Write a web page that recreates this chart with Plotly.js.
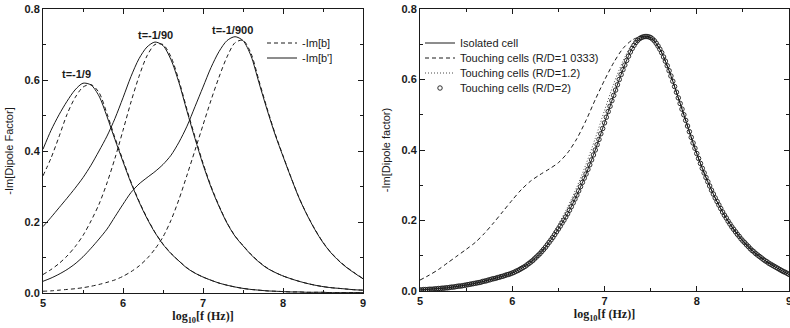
<!DOCTYPE html>
<html>
<head>
<meta charset="utf-8">
<script src="https://cdn.plot.ly/plotly-3.0.1.min.js"></script>
<style>html,body{margin:0;padding:0;background:#fff;}#chart{width:790px;height:328px;}</style>
</head>
<body>
<div id="chart"></div>
<script>
// ---------- shared x grid (log10 f, Hz) ----------
const logF = [5.0,5.1,5.2,5.3,5.4,5.5,5.6,5.7,5.8,5.9,6.0,6.1,6.2,6.3,6.4,6.5,6.6,6.7,6.8,6.9,7.0,7.1,7.2,7.3,7.4,7.5,7.6,7.7,7.8,7.9,8.0,8.1,8.2,8.3,8.4,8.5,8.6,8.7,8.8,8.9,9.0];

// ---------- left panel: -Im[b] (dashed) and -Im[b'] (solid) ----------
const imBp_t9   = [0.405,0.458,0.502,0.540,0.572,0.591,0.586,0.555,0.497,0.432,0.370,0.310,0.257,0.210,0.170,0.137,0.111,0.090,0.070,0.056,0.045,0.036,0.028,0.022,0.017,0.013,0.010,0.008,0.006,0.005,0.004,0.003,0.003,0.002,0.002,0.002,0.001,0.001,0.001,0.001,0.001];
const imB_t9    = [0.330,0.380,0.440,0.503,0.550,0.580,0.587,0.565,0.505,0.437,0.374,0.313,0.259,0.212,0.171,0.138,0.112,0.090,0.071,0.056,0.045,0.036,0.028,0.022,0.017,0.013,0.010,0.008,0.006,0.005,0.004,0.003,0.003,0.002,0.002,0.002,0.001,0.001,0.001,0.001,0.001];
const imBp_t90  = [0.187,0.213,0.240,0.267,0.295,0.325,0.360,0.400,0.442,0.492,0.550,0.610,0.660,0.693,0.707,0.697,0.657,0.592,0.512,0.435,0.362,0.298,0.244,0.197,0.160,0.133,0.108,0.087,0.070,0.058,0.048,0.040,0.033,0.027,0.022,0.018,0.015,0.013,0.011,0.009,0.008];
const imB_t90   = [0.052,0.066,0.083,0.104,0.130,0.162,0.203,0.250,0.310,0.380,0.458,0.538,0.610,0.668,0.700,0.700,0.665,0.598,0.517,0.440,0.366,0.301,0.246,0.198,0.161,0.134,0.109,0.088,0.071,0.058,0.048,0.040,0.033,0.027,0.022,0.018,0.015,0.013,0.011,0.009,0.008];
const imBp_t900 = [0.033,0.042,0.053,0.066,0.082,0.102,0.126,0.152,0.180,0.215,0.250,0.283,0.307,0.325,0.342,0.362,0.388,0.425,0.470,0.525,0.580,0.635,0.680,0.711,0.722,0.711,0.668,0.592,0.517,0.447,0.385,0.325,0.268,0.220,0.178,0.142,0.113,0.090,0.071,0.055,0.040];
const imB_t900  = [0.005,0.006,0.008,0.010,0.012,0.015,0.019,0.024,0.030,0.037,0.047,0.060,0.076,0.097,0.124,0.158,0.205,0.264,0.332,0.402,0.473,0.543,0.608,0.665,0.705,0.712,0.675,0.598,0.521,0.450,0.387,0.326,0.269,0.221,0.179,0.143,0.114,0.091,0.072,0.056,0.041];

const tLabels = ["t=-1/9","t=-1/90","t=-1/900"];
const tLabelX = [5.42,6.40,7.37];
const tLabelY = [0.617,0.728,0.742];

// ---------- right panel ----------
const isolatedCell = [0.003,0.005,0.007,0.009,0.013,0.017,0.022,0.028,0.035,0.042,0.051,0.064,0.082,0.106,0.138,0.176,0.219,0.272,0.332,0.400,0.477,0.555,0.628,0.688,0.719,0.719,0.686,0.625,0.548,0.468,0.390,0.322,0.264,0.215,0.175,0.142,0.115,0.094,0.076,0.061,0.047];
const touchingRD10333 = [0.031,0.045,0.061,0.080,0.099,0.118,0.138,0.164,0.194,0.226,0.258,0.288,0.312,0.330,0.346,0.364,0.392,0.432,0.484,0.543,0.598,0.648,0.688,0.712,0.722,0.719,0.686,0.625,0.548,0.468,0.390,0.322,0.264,0.215,0.175,0.142,0.115,0.094,0.076,0.061,0.047];
const touchingRD12 = [0.003,0.005,0.007,0.010,0.013,0.017,0.022,0.029,0.036,0.044,0.054,0.068,0.088,0.114,0.148,0.190,0.238,0.295,0.360,0.433,0.512,0.588,0.652,0.700,0.720,0.720,0.686,0.625,0.548,0.468,0.390,0.322,0.264,0.215,0.175,0.142,0.115,0.094,0.076,0.061,0.047];

const logFDense = [5.00,5.02,5.04,5.06,5.08,5.10,5.12,5.14,5.16,5.18,5.20,5.22,5.24,5.26,5.28,5.30,5.32,5.34,5.36,5.38,5.40,5.42,5.44,5.46,5.48,5.50,5.52,5.54,5.56,5.58,5.60,5.62,5.64,5.66,5.68,5.70,5.72,5.74,5.76,5.78,5.80,5.82,5.84,5.86,5.88,5.90,5.92,5.94,5.96,5.98,6.00,6.02,6.04,6.06,6.08,6.10,6.12,6.14,6.16,6.18,6.20,6.22,6.24,6.26,6.28,6.30,6.32,6.34,6.36,6.38,6.40,6.42,6.44,6.46,6.48,6.50,6.52,6.54,6.56,6.58,6.60,6.62,6.64,6.66,6.68,6.70,6.72,6.74,6.76,6.78,6.80,6.82,6.84,6.86,6.88,6.90,6.92,6.94,6.96,6.98,7.00,7.02,7.04,7.06,7.08,7.10,7.12,7.14,7.16,7.18,7.20,7.22,7.24,7.26,7.28,7.30,7.32,7.34,7.36,7.38,7.40,7.42,7.44,7.46,7.48,7.50,7.52,7.54,7.56,7.58,7.60,7.62,7.64,7.66,7.68,7.70,7.72,7.74,7.76,7.78,7.80,7.82,7.84,7.86,7.88,7.90,7.92,7.94,7.96,7.98,8.00,8.02,8.04,8.06,8.08,8.10,8.12,8.14,8.16,8.18,8.20,8.22,8.24,8.26,8.28,8.30,8.32,8.34,8.36,8.38,8.40,8.42,8.44,8.46,8.48,8.50,8.52,8.54,8.56,8.58,8.60,8.62,8.64,8.66,8.68,8.70,8.72,8.74,8.76,8.78,8.80,8.82,8.84,8.86,8.88,8.90,8.92,8.94,8.96,8.98,9.00];
const touchingRD2 = [0.003,0.003,0.004,0.004,0.004,0.005,0.005,0.005,0.006,0.006,0.007,0.007,0.008,0.008,0.009,0.009,0.010,0.011,0.011,0.012,0.013,0.014,0.014,0.015,0.016,0.017,0.018,0.019,0.020,0.021,0.022,0.023,0.024,0.025,0.027,0.028,0.029,0.031,0.032,0.034,0.035,0.036,0.038,0.039,0.041,0.042,0.044,0.046,0.047,0.049,0.051,0.053,0.056,0.058,0.061,0.064,0.067,0.070,0.074,0.078,0.082,0.086,0.091,0.096,0.101,0.106,0.112,0.118,0.124,0.131,0.138,0.145,0.152,0.160,0.168,0.176,0.184,0.193,0.201,0.210,0.219,0.229,0.239,0.250,0.261,0.272,0.284,0.296,0.308,0.320,0.332,0.345,0.358,0.372,0.386,0.400,0.415,0.430,0.446,0.461,0.477,0.493,0.509,0.524,0.540,0.555,0.570,0.585,0.600,0.614,0.628,0.641,0.654,0.666,0.678,0.688,0.697,0.705,0.711,0.716,0.719,0.721,0.722,0.722,0.721,0.719,0.715,0.710,0.703,0.695,0.686,0.676,0.664,0.652,0.639,0.625,0.610,0.595,0.580,0.564,0.548,0.532,0.516,0.500,0.484,0.468,0.452,0.436,0.420,0.405,0.390,0.376,0.362,0.348,0.335,0.322,0.310,0.298,0.286,0.275,0.264,0.254,0.244,0.234,0.224,0.215,0.207,0.198,0.190,0.182,0.175,0.168,0.161,0.155,0.148,0.142,0.137,0.131,0.126,0.120,0.115,0.111,0.106,0.102,0.098,0.094,0.090,0.086,0.083,0.079,0.076,0.073,0.070,0.067,0.064,0.061,0.058,0.055,0.053,0.050,0.047];

const xTickVals = [5,6,7,8,9];

// ---------- build ----------
const ink = '#1a1a1a';
const sans = 'Liberation Sans, Arial, sans-serif';
const serif = 'Liberation Serif, Times New Roman, serif';

function line(x, y, dash, name, legend, show, xa, ya, width) {
  return {x: x, y: y, type: 'scatter', mode: 'lines', name: name,
    line: {color: ink, width: width || 1, dash: dash, shape: 'spline', smoothing: 0.8},
    legend: legend, showlegend: show, xaxis: xa, yaxis: ya, hoverinfo: 'skip'};
}

const traces = [
  line(logF, imB_t9,    '4px,3px', '-Im[b]',  'legend',  true,  'x', 'y'),
  line(logF, imBp_t9,   'solid',   "-Im[b']", 'legend2', true,  'x', 'y'),
  line(logF, imB_t90,   '4px,3px', '-Im[b]',  'legend',  false, 'x', 'y'),
  line(logF, imBp_t90,  'solid',   "-Im[b']", 'legend2', false, 'x', 'y'),
  line(logF, imB_t900,  '4px,3px', '-Im[b]',  'legend',  false, 'x', 'y'),
  line(logF, imBp_t900, 'solid',   "-Im[b']", 'legend2', false, 'x', 'y'),
  line(logF, isolatedCell,    'solid',   'Isolated cell',               'legend3', true, 'x2', 'y2'),
  line(logF, touchingRD10333, '4px,3px', 'Touching cells (R/D=1 0333)', 'legend4', true, 'x2', 'y2'),
  line(logF, touchingRD12,    '1px,2px', 'Touching cells (R/D=1.2)',    'legend5', true, 'x2', 'y2', 0.8),
  {x: logFDense, y: touchingRD2, type: 'scatter', mode: 'markers', name: 'Touching cells (R/D=2)',
   marker: {symbol: 'circle-open', size: 4.5, color: ink, line: {width: 0.9, color: ink}},
   legend: 'legend6', showlegend: true, xaxis: 'x2', yaxis: 'y2', hoverinfo: 'skip'}
];

const W = 790, H = 328;
function px(x) { return x / W; }
function py(y) { return 1 - y / H; }

function xAxis(domain, anchor) {
  return {domain: domain, anchor: anchor, range: [5, 9], tickvals: xTickVals, ticks: 'inside', ticklen: 5,
    tickcolor: ink, mirror: 'allticks', showline: true, linecolor: ink, linewidth: 1, showgrid: false, zeroline: false,
    ticklabeloverflow: 'allow',
    tickfont: {family: sans, size: 11, color: ink, weight: 'bold'},
    minor: {dtick: 0.5, tick0: 5, ticks: 'inside', ticklen: 3, tickcolor: ink, showgrid: false},
    title: {text: 'log<sub>10</sub>[f (Hz)]', font: {family: serif, size: 12, color: ink, weight: 'bold'}, standoff: 2}};
}
function yAxis(domain, anchor, title) {
  return {domain: domain, anchor: anchor, range: [0, 0.8], dtick: 0.2, tick0: 0, tickformat: '.1f', ticks: 'inside', ticklen: 5,
    tickcolor: ink, mirror: 'allticks', showline: true, linecolor: ink, linewidth: 1, showgrid: false, zeroline: false,
    tickfont: {family: sans, size: 11, color: ink, weight: 'bold'},
    minor: {dtick: 0.1, ticks: 'inside', ticklen: 3, tickcolor: ink, showgrid: false},
    title: {text: title, font: {family: sans, size: 11, color: ink}, standoff: 8}};
}

function legendAt(xp, yp) {
  return {x: px(xp), y: py(yp), xanchor: 'left', yanchor: 'middle', bgcolor: 'rgba(0,0,0,0)', borderwidth: 0,
    font: {family: sans, size: 11, color: ink}, itemwidth: 30, tracegroupgap: 0};
}

const annotations = tLabels.map((t, i) => ({x: tLabelX[i], y: tLabelY[i], xref: 'x', yref: 'y', text: t,
  showarrow: false, font: {family: sans, size: 11, color: ink, weight: 'bold'}}));

const layout = {
  width: W, height: H, margin: {l: 0, r: 0, t: 0, b: 0}, paper_bgcolor: '#fff', plot_bgcolor: '#fff',
  showlegend: true,
  xaxis: xAxis([px(43), px(363)], 'y'),
  yaxis: yAxis([py(293), py(9)], 'x', '-Im[Dipole Factor]'),
  xaxis2: xAxis([px(420), px(789)], 'y2'),
  yaxis2: yAxis([py(291), py(9)], 'x2', '-Im[Dipole factor)'),
  legend:  legendAt(262, 43),
  legend2: legendAt(262, 58),
  legend3: legendAt(420, 43),
  legend4: legendAt(420, 58),
  legend5: legendAt(420, 73),
  legend6: legendAt(420, 88),
  annotations: annotations
};

Plotly.newPlot('chart', traces, layout, {staticPlot: true, displayModeBar: false});
</script>
</body>
</html>
